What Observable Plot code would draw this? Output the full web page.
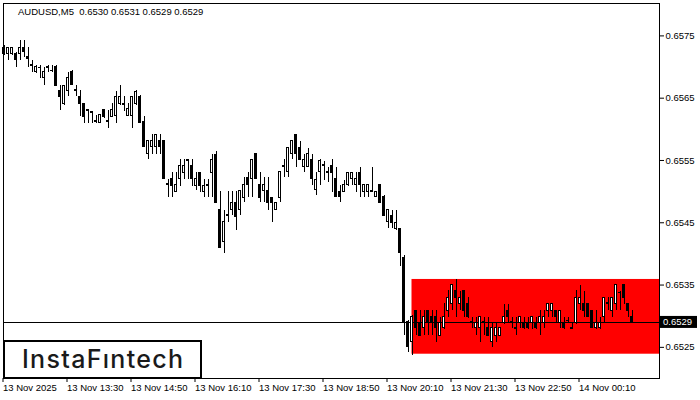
<!DOCTYPE html>
<html><head><meta charset="utf-8">
<script src="https://cdn.jsdelivr.net/npm/d3@7"></script>
<script src="https://cdn.jsdelivr.net/npm/@observablehq/plot@0.6"></script>
<style>
body{margin:0;background:#fff;}
#wrap{position:relative;width:700px;height:400px;}
svg{display:block;}
</style></head><body><div id="wrap"></div>
<script>
const titleText = "AUDUSD,M5  0.6530 0.6531 0.6529 0.6529";
const logoText = "InstaF\u0131ntech";
const open = [
0.65721,0.65721,0.65721,0.65721,0.65721,0.65731,0.65716,0.65703,0.65692,0.65699,
0.65682,0.65700,0.65694,0.65700,0.65662,0.65641,0.65662,0.65692,0.65663,0.65652,
0.65641,0.65631,0.65628,0.65612,0.65610,0.65631,0.65613,0.65620,0.65621,0.65641,
0.65641,0.65621,0.65621,0.65641,0.65652,0.65612,0.65560,0.65572,0.65572,0.65581,
0.65581,0.65512,0.65520,0.65499,0.65520,0.65530,0.65551,0.65541,0.65509,0.65530,
0.65499,0.65510,0.65530,0.65559,0.65470,0.65419,0.65462,0.65470,0.65482,0.65470,
0.65490,0.65522,0.65520,0.65560,0.65510,0.65501,0.65501,0.65490,0.65470,0.65490,
0.65539,0.65531,0.65560,0.65591,0.65570,0.65539,0.65539,0.65551,0.65502,0.65531,
0.65543,0.65531,0.65541,0.65520,0.65499,0.65499,0.65510,0.65520,0.65510,0.65530,
0.65499,0.65499,0.65501,0.65491,0.65510,0.65491,0.65451,0.65461,0.65440,0.65440,
0.65393,0.65290,0.65258,0.65309,0.65289,0.65281,0.65309,0.65298,0.65298,0.65269,
0.65281,0.65309,0.65319,0.65340,0.65319,0.65340,0.65319,0.65290,0.65281,0.65281,
0.65290,0.65281,0.65258,0.65269,0.65269,0.65289,0.65309,0.65290,0.65281,0.65289,
0.65289,0.65289,0.65289,0.65289,0.65289,0.65289,0.65309,0.65309,0.65309,0.65289,
0.65289,0.65293,0.65281,0.65289,0.65319,0.65319,0.65319,0.65309,0.65281,0.65281,
0.65298,0.65319,0.65309,0.65319,0.65338,0.65350,0.65319,0.65298];
const high = [
0.65734,0.65732,0.65732,0.65723,0.65742,0.65742,0.65731,0.65711,0.65703,0.65702,
0.65700,0.65702,0.65702,0.65702,0.65671,0.65671,0.65691,0.65694,0.65671,0.65663,
0.65641,0.65631,0.65629,0.65623,0.65623,0.65631,0.65631,0.65642,0.65660,0.65671,
0.65652,0.65641,0.65652,0.65662,0.65654,0.65621,0.65581,0.65591,0.65591,0.65591,
0.65581,0.65520,0.65530,0.65530,0.65551,0.65551,0.65551,0.65551,0.65530,0.65530,
0.65520,0.65520,0.65560,0.65564,0.65501,0.65469,0.65501,0.65501,0.65501,0.65501,
0.65522,0.65531,0.65551,0.65560,0.65531,0.65522,0.65522,0.65491,0.65482,0.65531,
0.65551,0.65570,0.65581,0.65591,0.65581,0.65560,0.65570,0.65560,0.65531,0.65551,
0.65549,0.65539,0.65551,0.65539,0.65510,0.65518,0.65531,0.65531,0.65531,0.65539,
0.65512,0.65512,0.65539,0.65501,0.65512,0.65493,0.65472,0.65470,0.65470,0.65441,
0.65398,0.65293,0.65301,0.65309,0.65309,0.65309,0.65309,0.65309,0.65309,0.65298,
0.65321,0.65342,0.65350,0.65359,0.65340,0.65342,0.65330,0.65298,0.65298,0.65300,
0.65298,0.65298,0.65289,0.65289,0.65281,0.65319,0.65319,0.65298,0.65298,0.65300,
0.65298,0.65298,0.65298,0.65298,0.65309,0.65309,0.65321,0.65321,0.65309,0.65309,
0.65298,0.65298,0.65290,0.65342,0.65350,0.65340,0.65321,0.65309,0.65309,0.65298,
0.65330,0.65330,0.65330,0.65350,0.65340,0.65351,0.65321,0.65309];
const low = [
0.65718,0.65711,0.65718,0.65700,0.65711,0.65715,0.65700,0.65692,0.65689,0.65682,
0.65671,0.65691,0.65692,0.65670,0.65631,0.65639,0.65652,0.65671,0.65652,0.65620,
0.65610,0.65610,0.65610,0.65609,0.65609,0.65618,0.65602,0.65620,0.65610,0.65639,
0.65628,0.65620,0.65602,0.65639,0.65610,0.65572,0.65551,0.65560,0.65560,0.65560,
0.65520,0.65490,0.65490,0.65499,0.65509,0.65520,0.65520,0.65509,0.65502,0.65499,
0.65490,0.65490,0.65490,0.65482,0.65409,0.65401,0.65451,0.65461,0.65438,0.65462,
0.65482,0.65490,0.65490,0.65520,0.65482,0.65482,0.65470,0.65451,0.65469,0.65482,
0.65522,0.65522,0.65551,0.65539,0.65551,0.65531,0.65538,0.65510,0.65493,0.65510,
0.65518,0.65514,0.65499,0.65491,0.65482,0.65498,0.65509,0.65510,0.65498,0.65491,
0.65491,0.65491,0.65499,0.65490,0.65482,0.65461,0.65440,0.65440,0.65438,0.65379,
0.65269,0.65242,0.65237,0.65269,0.65268,0.65269,0.65269,0.65269,0.65258,0.65268,
0.65279,0.65298,0.65309,0.65298,0.65309,0.65298,0.65296,0.65281,0.65269,0.65258,
0.65269,0.65268,0.65250,0.65258,0.65268,0.65287,0.65289,0.65281,0.65269,0.65281,
0.65279,0.65279,0.65279,0.65279,0.65269,0.65281,0.65298,0.65298,0.65289,0.65281,
0.65279,0.65289,0.65279,0.65287,0.65309,0.65298,0.65298,0.65281,0.65279,0.65279,
0.65289,0.65309,0.65298,0.65309,0.65309,0.65319,0.65298,0.65289];
const close = [
0.65731,0.65731,0.65731,0.65711,0.65731,0.65724,0.65713,0.65702,0.65700,0.65698,
0.65692,0.65699,0.65693,0.65670,0.65652,0.65670,0.65682,0.65671,0.65662,0.65641,
0.65620,0.65629,0.65626,0.65613,0.65623,0.65620,0.65612,0.65631,0.65652,0.65652,
0.65639,0.65633,0.65652,0.65660,0.65610,0.65572,0.65581,0.65581,0.65591,0.65572,
0.65520,0.65510,0.65509,0.65510,0.65541,0.65541,0.65549,0.65520,0.65520,0.65509,
0.65509,0.65509,0.65551,0.65482,0.65409,0.65451,0.65461,0.65482,0.65459,0.65501,
0.65510,0.65510,0.65551,0.65520,0.65490,0.65510,0.65482,0.65482,0.65482,0.65531,
0.65541,0.65570,0.65581,0.65560,0.65551,0.65551,0.65560,0.65520,0.65518,0.65549,
0.65541,0.65530,0.65530,0.65491,0.65491,0.65510,0.65530,0.65530,0.65520,0.65510,
0.65510,0.65510,0.65500,0.65499,0.65482,0.65461,0.65470,0.65449,0.65449,0.65401,
0.65290,0.65250,0.65298,0.65281,0.65269,0.65298,0.65289,0.65289,0.65281,0.65289,
0.65298,0.65330,0.65350,0.65330,0.65330,0.65309,0.65298,0.65289,0.65289,0.65298,
0.65289,0.65269,0.65281,0.65281,0.65281,0.65298,0.65298,0.65289,0.65280,0.65298,
0.65281,0.65281,0.65298,0.65281,0.65298,0.65298,0.65319,0.65319,0.65298,0.65309,
0.65281,0.65292,0.65280,0.65330,0.65330,0.65309,0.65298,0.65281,0.65289,0.65289,
0.65330,0.65321,0.65330,0.65350,0.65337,0.65330,0.65309,0.65290];
const priceTicks = [0.6525, 0.6535, 0.6545, 0.6555, 0.6565, 0.6575];
const timeTickIndex = [0, 16, 32, 48, 64, 80, 96, 112, 128, 144];
const timeTickLabels = ["13 Nov 2025","13 Nov 13:30","13 Nov 14:50","13 Nov 16:10","13 Nov 17:30","13 Nov 18:50","13 Nov 20:10","13 Nov 21:30","13 Nov 22:50","14 Nov 00:10"];
const rangeStartIndex = 102;
const rangeTop = 0.65359;
const rangeBottom = 0.65239;
const lastPrice = 0.6529;

const xDomain = [-0.125, 163.875];
const candles = open.map((o, i) => ({i, open: o, high: high[i], low: low[i], close: close[i]}));
const rangeBox = [{x1: rangeStartIndex, x2: xDomain[1], y1: rangeBottom, y2: rangeTop}];
const font = "'Liberation Sans', Arial, sans-serif";

const chart = Plot.plot({
  width: 700, height: 400,
  marginLeft: 3, marginRight: 41, marginTop: 3, marginBottom: 22,
  x: {type: "linear", domain: xDomain},
  y: {domain: [0.652, 0.65802]},
  style: {fontFamily: font, fontSize: "9.5px", color: "black", background: "white"},
  marks: [
    Plot.rect(rangeBox, {x1: "x1", x2: "x2", y1: "y1", y2: "y2", fill: "#ff0000"}),
    Plot.ruleY([lastPrice], {stroke: "black", strokeWidth: 1, shapeRendering: "crispEdges"}),
    Plot.ruleX(candles, {x: "i", y1: "low", y2: "high", stroke: "black", strokeWidth: 1, shapeRendering: "crispEdges"}),
    Plot.rect(candles, {
      x1: d => d.i - 0.25, x2: d => d.i + 0.25, y1: "open", y2: "close",
      fill: d => d.close >= d.open ? "white" : "black",
      stroke: "black", strokeWidth: 1, shapeRendering: "crispEdges"
    }),
    Plot.axisY(priceTicks, {anchor: "right", tickSize: 4, tickPadding: 2, tickFormat: d => d.toFixed(4), fontSize: 9.5}),
    Plot.axisX(timeTickIndex, {anchor: "bottom", tickSize: 4, tickPadding: 2, textAnchor: "start", dx: -1,
      tickFormat: d => timeTickLabels[timeTickIndex.indexOf(d)], fontSize: 9.5}),
    Plot.frame({stroke: "black", shapeRendering: "crispEdges"})
  ]
});
document.getElementById("wrap").appendChild(chart);

const svg = d3.select(chart);
const yS = chart.scale("y");
const yLast = yS.apply(lastPrice);
// title
svg.append("text").attr("x", 18).attr("y", 15).attr("text-anchor", "start")
  .attr("font-family", font).attr("font-size", "9.5px").attr("fill", "black")
  .attr("xml:space", "preserve").style("white-space", "pre").text(titleText);
// last price label
svg.append("rect").attr("x", 659).attr("y", yLast - 6).attr("width", 38).attr("height", 12).attr("fill", "black");
svg.append("text").attr("x", 663).attr("y", yLast + 3.5).attr("text-anchor", "start")
  .attr("font-family", font).attr("font-size", "9.5px").attr("fill", "white").text(lastPrice.toFixed(4));
// logo
svg.append("rect").attr("x", 4).attr("y", 341).attr("width", 197).attr("height", 37)
  .attr("fill", "white").attr("stroke", "black").attr("stroke-width", 2);
svg.append("text").attr("x", 22).attr("y", 368).attr("text-anchor", "start")
  .attr("font-family", "Inter, 'Noto Sans', sans-serif").attr("font-size", "25px").attr("font-weight", 500)
  .attr("fill", "#1a1a1a")
  .attr("textLength", 161).attr("lengthAdjust", "spacing").text(logoText);
</script></body></html>
